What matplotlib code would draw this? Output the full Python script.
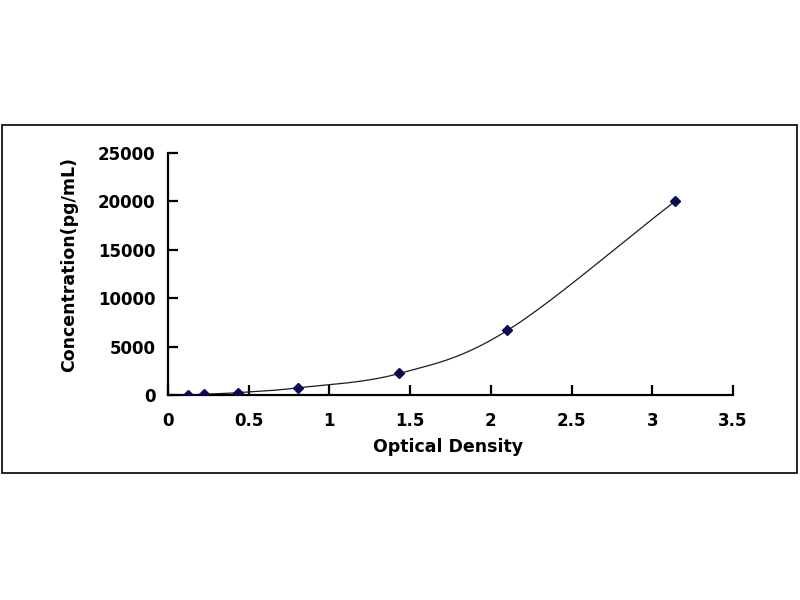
import numpy as np
import matplotlib
matplotlib.use("Agg")
import matplotlib.pyplot as plt
from matplotlib.patches import Rectangle

od = [0.122, 0.223, 0.436, 0.807, 1.433, 2.102, 3.140]
conc = [0, 82, 247, 741, 2222, 6667, 20000]
xticks = [0, 0.5, 1, 1.5, 2, 2.5, 3, 3.5]
yticks = [0, 5000, 10000, 15000, 20000, 25000]
xtick_labels = ["0", "0.5", "1", "1.5", "2", "2.5", "3", "3.5"]
ytick_labels = ["0", "5000", "10000", "15000", "20000", "25000"]

def catmull_rom(x, y, n=40):
    x = np.asarray(x, float); y = np.asarray(y, float)
    px = np.concatenate([[2*x[0]-x[1]], x, [2*x[-1]-x[-2]]])
    py = np.concatenate([[2*y[0]-y[1]], y, [2*y[-1]-y[-2]]])
    xs, ys = [], []
    t = np.linspace(0, 1, n)
    for i in range(1, len(px)-2):
        p0, p1, p2, p3 = [np.array([px[j], py[j]]) for j in (i-1, i, i+1, i+2)]
        pts = 0.5*((2*p1)[:, None] + (-p0+p2)[:, None]*t + (2*p0-5*p1+4*p2-p3)[:, None]*t**2 + (-p0+3*p1-3*p2+p3)[:, None]*t**3)
        xs.extend(pts[0]); ys.extend(pts[1])
    return np.array(xs), np.array(ys)

plt.rcParams['font.family'] = ['DejaVu Sans']
fig = plt.figure(figsize=(8, 6), dpi=100)
fig.patches.append(Rectangle((2/800, 1-473/600), 795/800, 348/600, transform=fig.transFigure,
                             fill=False, edgecolor='black', linewidth=1.2))
ax = fig.add_axes([168/800, 1-395/600, (733-168)/800, (395-153)/600])

sx, sy = catmull_rom(od, conc)
ax.plot(sx, sy, color='#1a1a2e', linewidth=0.9, zorder=2)
ax.plot(od, conc, linestyle='none', marker='D', markersize=5.5, color='#0a0a50', zorder=3)

ax.set_xlim(0, 3.5)
ax.set_ylim(0, 25000)
ax.set_xticks(xticks)
ax.set_xticklabels(xtick_labels)
ax.set_yticks(yticks)
ax.set_yticklabels(ytick_labels)
for s in ['top', 'right']:
    ax.spines[s].set_visible(False)
for s in ['left', 'bottom']:
    ax.spines[s].set_linewidth(1.6)
ax.tick_params(direction='in', length=7, width=1.6, labelsize=12)
ax.tick_params(axis='x', pad=12)
ax.tick_params(axis='y', pad=9)
for lab in ax.get_xticklabels() + ax.get_yticklabels():
    lab.set_fontweight('bold')
ax.set_xlabel('Optical Density', fontsize=12.5, fontweight='bold')
ax.set_ylabel('Concentration(pg/mL)', fontsize=12.5, fontweight='bold')
# label centres in pixels: x-label at y=447, y-label at x=69, y=265
ax.xaxis.set_label_coords((448-168)/(733-168), (395-447)/(395-153))
ax.xaxis.label.set_va('center')
ax.yaxis.set_label_coords((69-168)/(733-168), (395-265)/(395-153))
ax.yaxis.label.set_va('center')

fig.savefig('out.png', dpi=100, facecolor='white')
